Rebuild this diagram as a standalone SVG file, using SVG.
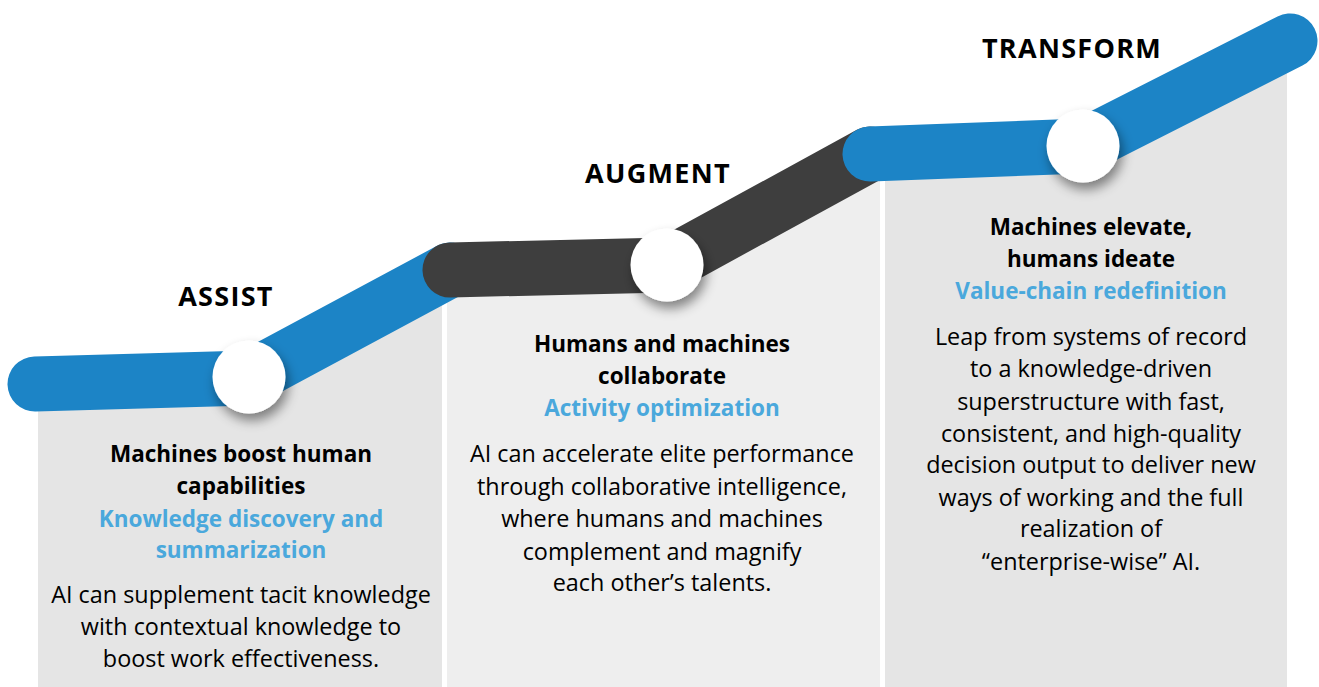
<svg xmlns="http://www.w3.org/2000/svg" width="1319" height="687" viewBox="0 0 1319 687">
<defs>
<style>
.panel{fill:#e5e5e5}
.panel2{fill:#eeeeee}
.band{fill:none;stroke-width:55;stroke-linecap:round;stroke-linejoin:round}
.blue{stroke:#1c84c6}
.dark{stroke:#3e3e3e}
.dot{fill:#ffffff}
text{font-family:"Open Sans","Noto Sans","Liberation Sans",sans-serif;text-anchor:middle}
.title{font-size:27px;font-weight:700;fill:#000;letter-spacing:1.3px}
.head{font-size:22.5px;font-weight:700;fill:#000}
.sub{font-size:22.5px;font-weight:700;fill:#4aa8dc}
.body{font-size:23.4px;fill:#000}
</style>
<filter id="sh" x="-50%" y="-50%" width="200%" height="200%">
<feDropShadow dx="3" dy="7" stdDeviation="6" flood-color="#000" flood-opacity="0.45"/>
</filter>
</defs>
<rect width="1319" height="687" fill="#ffffff"/>
<g id="panels">
<path class="panel" d="M38,384 L249,378 L442,274 L442,687 L38,687 Z"/>
<path class="panel2" d="M447,270 L667,265 L880,150 L880,687 L447,687 Z"/>
<path class="panel" d="M885,154 L1083,146 L1287,43 L1287,687 L885,687 Z"/>
</g>
<g id="connectors">
<path class="band blue" d="M35,384 L249,378 L450,270"/>
<path class="band dark" d="M450,270 L667,265 L870,154"/>
<path class="band blue" d="M870,154 L1083,146 L1290,41"/>
</g>
<g id="assist">
<circle class="dot" cx="249" cy="377" r="36.5" filter="url(#sh)"/>
<text class="title" x="226" y="306">ASSIST</text>
<text class="head" x="241" y="462">Machines boost human</text>
<text class="head" x="241" y="494">capabilities</text>
<text class="sub" x="241" y="527">Knowledge discovery and</text>
<text class="sub" x="241" y="558">summarization</text>
<text class="body" x="241" y="603">AI can supplement tacit knowledge</text>
<text class="body" x="241" y="635">with contextual knowledge to</text>
<text class="body" x="241" y="667">boost work effectiveness.</text>
</g>
<g id="augment">
<circle class="dot" cx="667" cy="265" r="36.5" filter="url(#sh)"/>
<text class="title" x="658" y="183">AUGMENT</text>
<text class="head" x="662" y="352">Humans and machines</text>
<text class="head" x="662" y="384">collaborate</text>
<text class="sub" x="662" y="416">Activity optimization</text>
<text class="body" x="662" y="462">AI can accelerate elite performance</text>
<text class="body" x="662" y="495">through collaborative intelligence,</text>
<text class="body" x="662" y="527">where humans and machines</text>
<text class="body" x="662" y="560">complement and magnify</text>
<text class="body" x="662" y="591">each other’s talents.</text>
</g>
<g id="transform">
<circle class="dot" cx="1083" cy="146" r="36.5" filter="url(#sh)"/>
<text class="title" x="1072" y="58">TRANSFORM</text>
<text class="head" x="1091" y="235">Machines elevate,</text>
<text class="head" x="1091" y="267">humans ideate</text>
<text class="sub" x="1091" y="299">Value-chain redefinition</text>
<text class="body" x="1091" y="345">Leap from systems of record</text>
<text class="body" x="1091" y="377">to a knowledge-driven</text>
<text class="body" x="1091" y="410">superstructure with fast,</text>
<text class="body" x="1091" y="442">consistent, and high-quality</text>
<text class="body" x="1091" y="473">decision output to deliver new</text>
<text class="body" x="1091" y="506">ways of working and the full</text>
<text class="body" x="1091" y="537">realization of</text>
<text class="body" x="1091" y="570">“enterprise-wise” AI.</text>
</g>
</svg>
